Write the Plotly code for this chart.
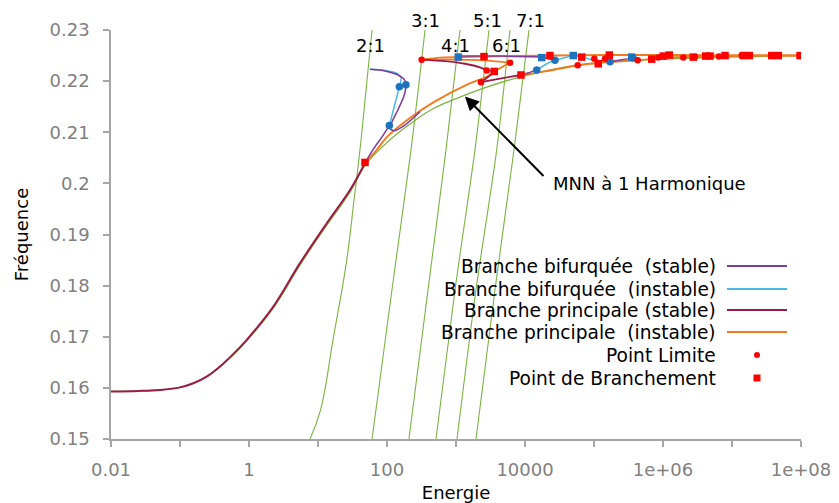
import plotly.graph_objects as go

# ---------------- data (Energie, Fréquence) ----------------
# Branche principale
mainA_E = [0.01, 0.025, 0.0513, 0.1, 0.156, 0.250, 0.380, 0.60, 0.927, 2.25, 5.48, 13.4, 29.1, 48.0]
mainA_F = [0.1593, 0.1594, 0.1596, 0.1601, 0.1609, 0.1623, 0.1642, 0.1667, 0.1694, 0.1759, 0.1844, 0.1922, 0.1987, 0.2040]
mainB_E = [48.0, 71.6, 100, 215, 464, 1443, 2811, 3589, 4831, 6067]
mainB_F = [0.2040, 0.2066, 0.2091, 0.2128, 0.2158, 0.2193, 0.2209, 0.2219, 0.2229, 0.2236]
mainC_E = [6067, 2228, 818, 318]
mainC_F = [0.2236, 0.2241, 0.2242, 0.2242]
mainD_E = [318, 693, 1349, 2228, 2786]
mainD_F = [0.2242, 0.2239, 0.2234, 0.2227, 0.2221]
mainE_E = [2786, 3589, 2911, 2301]
mainE_F = [0.2221, 0.2219, 0.2208, 0.2198]
mainF_E = [2301, 4345, 8750]
mainF_F = [0.2198, 0.2205, 0.2212]
mainG_E = [8750, 19500, 58100, 122000, 430000, 1070000, 3440000, 18200000, 96800000]
mainG_F = [0.2212, 0.2219, 0.2231, 0.2236, 0.2241, 0.2246, 0.2248, 0.2250, 0.2250]
mainH_E = [318, 586, 1079, 2547, 23000, 171000, 1262000, 96800000]
mainH_F = [0.2242, 0.2246, 0.2247, 0.2248, 0.2250, 0.2251, 0.2251, 0.2250]

# Branches bifurquées
bifP1a_E = [48.0, 62.7, 84.8, 108]
bifP1a_F = [0.2040, 0.2066, 0.2091, 0.2113]
bifB1_E = [108, 126, 151, 160, 135, 93.5, 56.7]
bifB1_F = [0.2113, 0.2148, 0.2189, 0.2206, 0.2216, 0.2221, 0.2223]
bifP1b_E = [56.7, 93.5, 140, 176, 188, 176, 144, 118, 110, 126, 182, 301]
bifP1b_F = [0.2223, 0.2220, 0.2213, 0.2204, 0.2193, 0.2171, 0.2144, 0.2120, 0.2108, 0.2103, 0.2114, 0.2140]
bifP2a_E = [1079, 4345, 17460]
bifP2a_F = [0.2249, 0.2249, 0.2247]
bifP2b_E = [17460, 27200]
bifP2b_F = [0.2247, 0.2241]
bifB2_E = [27200, 21500, 14800]
bifB2_F = [0.2241, 0.2235, 0.2222]
bifB2b_E = [27200, 50100]
bifB2b_F = [0.2241, 0.2250]
bifP2c_E = [14800, 11040, 8750]
bifP2c_F = [0.2222, 0.2216, 0.2212]
bifB3_E = [50100, 87500, 170600]
bifB3_F = [0.2250, 0.2243, 0.2238]
bifP3_E = [170600, 254700, 367000]
bifP3_F = [0.2238, 0.2242, 0.2245]

# MNN à 1 harmonique (backbone)
mnn_E = [0.01, 0.0513, 0.1, 0.156, 0.250, 0.380, 0.60, 0.927, 2.25, 5.48, 13.4, 29.1, 48.0, 100, 215, 464,
         1443, 2460, 8470, 62700, 649000, 96800000]
mnn_F = [0.1593, 0.1596, 0.1601, 0.1609, 0.1623, 0.1641, 0.1665, 0.1692, 0.1756, 0.1840, 0.1918, 0.1983, 0.2035, 0.2080,
         0.2116, 0.2146, 0.2174, 0.2186, 0.2208, 0.2232, 0.2242, 0.2250]

# Résonances n:1
res_labels = ["2:1", "3:1", "4:1", "5:1", "6:1", "7:1"]
res21_E = [7.66, 10.9, 16.5, 26.1, 33.3, 40.6, 49.7, 60.7]
res21_F = [0.150, 0.1557, 0.1694, 0.1850, 0.1968, 0.2066, 0.2183, 0.2300]
resN_F = [0.150, 0.1792, 0.2066, 0.2300]
res31_E = [60.7, 118, 223, 356]
res41_E = [208, 393, 716, 1143]
res51_E = [513, 968, 1884, 3006]
res61_E = [1033, 1950, 3890, 6067]
res71_E = [1950, 3673, 6934, 11430]

# Points
limit_E = [318, 6067, 2786, 2301, 58100, 101000, 144300, 429700, 855000, 1968000, 2911000,
           6486000, 13840000, 41020000]
limit_F = [0.2242, 0.2236, 0.2221, 0.2198, 0.2231, 0.2244, 0.2244, 0.2241, 0.2246, 0.2246, 0.2247,
           0.2248, 0.2250, 0.2250]
branch_E = [48.0, 2547, 3589, 8750, 23000, 66400, 166700, 115300, 685500, 1009000, 1233000,
            2748000, 4159000, 4797000, 7925000, 14590000, 17820000, 37600000, 46900000, 96800000]
branch_F = [0.2041, 0.2248, 0.2219, 0.2212, 0.2250, 0.2247, 0.2251, 0.2234, 0.2243, 0.2249, 0.2251,
            0.2247, 0.2249, 0.2249, 0.2250, 0.2250, 0.2250, 0.2250, 0.2250, 0.2250]
bif_limit_E = [108, 151, 188, 14800, 27200, 170600, 367000]
bif_limit_F = [0.2113, 0.2189, 0.2193, 0.2222, 0.2241, 0.2238, 0.2245]
bif_branch_E = [1079, 17460, 50100, 351600]
bif_branch_F = [0.2247, 0.2246, 0.2250, 0.2247]

x_tickvals = [0.01, 0.1, 1, 10, 100, 1000, 10000, 1e5, 1e6, 1e7, 1e8]
x_ticktext = ["0.01", "", "1", "", "100", "", "10000", "", "1e+06", "", "1e+08"]
y_tickvals = [0.15, 0.16, 0.17, 0.18, 0.19, 0.20, 0.21, 0.22, 0.23]
y_ticktext = ["0.15", "0.16", "0.17", "0.18", "0.19", "0.2", "0.21", "0.22", "0.23"]

legend_names = ["Branche bifurquée  (stable)", "Branche bifurquée  (instable)",
                "Branche principale (stable)", "Branche principale  (instable)",
                "Point Limite", "Point de Branchement"]

# ---------------- styles ----------------
C_PURPLE = "#7D3C98"
C_LBLUE = "#4DB8E6"
C_DRED = "#9B1B48"
C_ORANGE = "#F47A1F"
C_GREEN = "#7CB342"
C_RED = "#FF0000"
C_BLUE = "#1E73BE"
FONT = "DejaVu Sans"

fig = go.Figure()


def add_line(segs, color, width=1.6, smooth=1.0):
    for ex, fy in segs:
        fig.add_trace(go.Scatter(x=ex, y=fy, mode="lines",
                                 line=dict(color=color, width=width, shape="spline", smoothing=smooth),
                                 showlegend=False, hoverinfo="skip"))


# resonance lines
add_line([(res21_E, res21_F)], C_GREEN, 1.1, 1.2)
add_line([(res31_E, resN_F), (res41_E, resN_F), (res51_E, resN_F),
          (res61_E, resN_F), (res71_E, resN_F)], C_GREEN, 1.1, 0.8)
# backbone
add_line([(mnn_E, mnn_F)], C_GREEN, 1.3, 1.1)
# main branch
add_line([(mainB_E, mainB_F), (mainC_E, mainC_F), (mainG_E, mainG_F), (mainH_E, mainH_F)], C_ORANGE, 1.9, 0.7)
add_line([(mainA_E, mainA_F)], C_DRED, 2.0, 1.0)
add_line([(mainD_E, mainD_F), (mainE_E, mainE_F), (mainF_E, mainF_F)], C_DRED, 1.8, 0.7)
# bifurcated branches
add_line([(bifB1_E, bifB1_F), (bifB2_E, bifB2_F), (bifB2b_E, bifB2b_F), (bifB3_E, bifB3_F)], C_LBLUE, 1.5, 0.7)
add_line([(bifP1a_E, bifP1a_F), (bifP1b_E, bifP1b_F), (bifP2a_E, bifP2a_F), (bifP2b_E, bifP2b_F),
          (bifP2c_E, bifP2c_F), (bifP3_E, bifP3_F)], C_PURPLE, 1.5, 0.7)

# points
fig.add_trace(go.Scatter(x=bif_limit_E, y=bif_limit_F, mode="markers",
                         marker=dict(symbol="circle", size=7.5, color=C_BLUE), showlegend=False))
fig.add_trace(go.Scatter(x=bif_branch_E, y=bif_branch_F, mode="markers",
                         marker=dict(symbol="square", size=7.5, color=C_BLUE), showlegend=False))
fig.add_trace(go.Scatter(x=limit_E, y=limit_F, mode="markers",
                         marker=dict(symbol="circle", size=6.5, color=C_RED), showlegend=False))
fig.add_trace(go.Scatter(x=branch_E, y=branch_F, mode="markers",
                         marker=dict(symbol="square", size=7.5, color=C_RED), showlegend=False))

annotations = []
# resonance labels
lab_pos = [(370, 45), (425, 20), (455, 45), (487, 20), (506, 45), (530, 20)]
for lab, (px, py) in zip(res_labels, lab_pos):
    annotations.append(dict(x=(px - 111) / 690, y=(439 - py) / 409, xref="paper", yref="paper",
                            text=lab, showarrow=False, font=dict(family=FONT, size=18, color="black"),
                            xanchor="center", yanchor="middle"))

# MNN annotation
annotations.append(dict(x=3.13, y=0.2170, xref="x", yref="y", ax=80, ay=81, axref="pixel", ayref="pixel",
                        text="", showarrow=True, arrowhead=2, arrowsize=1.4, arrowwidth=2, arrowcolor="black"))
annotations.append(dict(x=(551 - 111) / 690, y=(439 - 183) / 409, xref="paper", yref="paper",
                        text="MNN à 1 Harmonique", showarrow=False, xanchor="left", yanchor="middle",
                        font=dict(family=FONT, size=18, color="black")))

# custom legend (text right, sample at right)
leg_y = [266, 289, 310, 332, 355, 378]
leg_colors = [C_PURPLE, C_LBLUE, C_DRED, C_ORANGE]
shapes = []
for i, name in enumerate(legend_names):
    py = (439 - leg_y[i]) / 409
    annotations.append(dict(x=(718 - 111) / 690, y=py, xref="paper", yref="paper", text=name,
                            showarrow=False, xanchor="right", yanchor="middle",
                            font=dict(family=FONT, size=18.6, color="black")))
    if i < 4:
        shapes.append(dict(type="line", xref="paper", yref="paper", x0=(727 - 111) / 690,
                           x1=(787 - 111) / 690, y0=py, y1=py, line=dict(color=leg_colors[i], width=2)))
cx = (757 - 111) / 690
py = (439 - leg_y[4]) / 409
shapes.append(dict(type="circle", xref="paper", yref="paper", x0=cx - 3 / 690, x1=cx + 3 / 690,
                   y0=py - 3 / 409, y1=py + 3 / 409, fillcolor=C_RED, line=dict(width=0)))
py = (439 - leg_y[5]) / 409
shapes.append(dict(type="rect", xref="paper", yref="paper", x0=cx - 3.5 / 690, x1=cx + 3.5 / 690,
                   y0=py - 3.5 / 409, y1=py + 3.5 / 409, fillcolor=C_RED, line=dict(width=0)))

axis_col = "#A6A6A6"
fig.update_layout(
    width=839, height=503,
    margin=dict(l=111, r=38, t=30, b=64),
    paper_bgcolor="white", plot_bgcolor="white",
    showlegend=False,
    annotations=annotations, shapes=shapes,
    font=dict(family=FONT, size=18, color="black"),
    xaxis=dict(type="log", range=[-2, 8], tickvals=x_tickvals, ticktext=x_ticktext,
               showgrid=False, zeroline=False, showline=True, linecolor=axis_col, linewidth=1.5,
               ticks="outside", ticklen=6, tickcolor=axis_col, tickwidth=1.5, ticklabelstandoff=8,
               tickfont=dict(family=FONT, size=18, color="#808080"), automargin=False,
               title=dict(text="Energie", font=dict(family=FONT, size=18, color="black"), standoff=8)),
    yaxis=dict(range=[0.15, 0.23], tickvals=y_tickvals, ticktext=y_ticktext,
               showgrid=False, zeroline=False, showline=True, linecolor=axis_col, linewidth=1.5,
               ticks="outside", ticklen=6, tickcolor=axis_col, tickwidth=1.5, ticklabelstandoff=10,
               tickfont=dict(family=FONT, size=18, color="#808080"), automargin=False,
               title=dict(text="Fréquence", font=dict(family=FONT, size=18, color="black"), standoff=16)),
)

fig.write_html("out.html", config={"displayModeBar": False})
with open("out.html", encoding="utf-8") as fh:
    html = fh.read()
html = html.replace("<head>", "<head><style>html,body{margin:0;padding:0;}</style>", 1)
with open("out.html", "w", encoding="utf-8") as fh:
    fh.write(html)
